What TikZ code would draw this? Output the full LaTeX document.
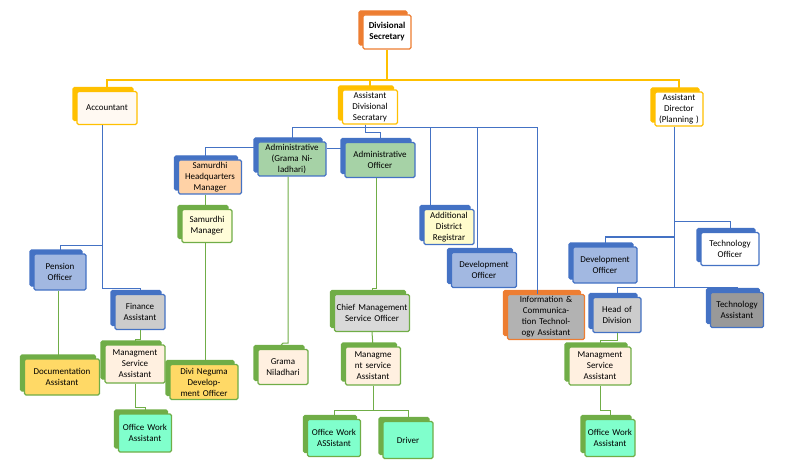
\documentclass[tikz,border=0pt]{standalone}
\usepackage{fontspec}
\setmainfont{Carlito}
\usetikzlibrary{shadows}
\definecolor{ofblue}{HTML}{4472C4}
\definecolor{ofgold}{HTML}{FFC000}
\definecolor{oforange}{HTML}{ED7D31}
\definecolor{ofgreen}{HTML}{70AD47}
\tikzset{
  card/.style={draw=#1, line width=1.3pt, rounded corners=1.5pt, align=center,
    font=\fontsize{9}{11}\selectfont, inner sep=1pt,
    copy shadow={shadow xshift=-4pt, shadow yshift=4pt, fill=#1, draw=#1}},
  box/.style 2 args={minimum width=#1, minimum height=#2, text width=#1-4pt},
  bl/.style={ofblue, line width=1pt},
  gl/.style={ofgreen, line width=1pt},
  yl/.style={ofgold, line width=1.3pt}
}
\begin{document}
\begin{tikzpicture}[x=1pt, y=-1pt]
\useasboundingbox (0,0) rectangle (795,473);
% top level
\node[card=oforange, fill=white, box={48pt}{34pt}, font=\fontsize{9}{11}\selectfont\bfseries] (ds) at (387,32) {Divisional Secretary};
\node[card=ofgold, fill=white!95!orange, box={60pt}{33pt}] (acc) at (107,108) {Accountant};
\node[card=ofgold, fill=white, box={55pt}{34pt}] (ads) at (370,107) {Assistant Divisional Secratary};
\node[card=ofgold, fill=white, box={48pt}{34pt}] (adp) at (679,109) {Assistant Director (Planning )};
% under assistant divisional secretary
\node[card=ofblue, fill=green!50!black!35, box={68pt}{34pt}] (agn) at (292,159) {Administrative (Grama Niladhari)};
\node[card=ofblue, fill=green!50!black!35, box={70pt}{35pt}] (ao) at (380,160) {Administrative Officer};
\node[card=ofblue, fill=orange!35, box={63pt}{34pt}] (shm) at (210,177) {Samurdhi Headquarters Manager};
\node[card=ofgreen, fill=yellow!15, box={50pt}{33pt}] (sm) at (207,226) {Samurdhi Manager};
\node[card=ofblue, fill=yellow!20, box={50pt}{35pt}] (adr) at (449,227) {Additional District Registrar};
\node[card=ofblue, fill=ofblue!50, box={65pt}{35pt}] (dev) at (484,270) {Development Officer};
\node[card=oforange, fill=black!30, box={77pt}{45pt}] (ict) at (546,317) {Information \& Communication Technology Assistant};
% under accountant
\node[card=ofblue, fill=ofblue!50, box={52pt}{36pt}] (po) at (60,272) {Pension Officer};
\node[card=ofblue, fill=black!20, box={50pt}{35pt}] (fa) at (140,312) {Finance Assistant};
\node[card=ofgreen, fill=ofgold!60, box={75pt}{36pt}] (doc) at (62,377) {Documentation Assistant};
\node[card=ofgreen, fill=orange!12, box={60pt}{38pt}] (msa) at (135,364) {Managment Service Assistant};
\node[card=ofgreen, fill=green!40!cyan!50, box={53pt}{38pt}] (owa) at (145,433) {Office Work Assistant};
\node[card=ofgreen, fill=ofgold!60, box={68pt}{35pt}] (dnd) at (204,382) {Divi Neguma Development Officer};
\node[card=ofgreen, fill=orange!12, box={50pt}{35pt}] (gn) at (283,367) {Grama Niladhari};
\node[card=ofgreen, fill=black!15, box={75pt}{37pt}] (cmso) at (372,313) {Chief Management Service Officer};
\node[card=ofgreen, fill=orange!12, box={55pt}{38pt}] (msb) at (373,366) {Managme nt service Assistant};
\node[card=ofgreen, fill=green!40!cyan!50, box={53pt}{37pt}] (owb) at (334,438) {Office Work ASSistant};
\node[card=ofgreen, fill=green!40!cyan!50, box={50pt}{37pt}] (drv) at (408,440) {Driver};
% under assistant director
\node[card=ofblue, fill=ofblue!50, box={64pt}{36pt}] (dvr) at (605,265) {Development Officer};
\node[card=ofblue, fill=white, box={58pt}{33pt}] (to) at (730,249) {Technology Officer};
\node[card=ofblue, fill=black!20, box={48pt}{35pt}] (hod) at (617,315) {Head of Division};
\node[card=ofblue, fill=black!40, box={53pt}{35pt}] (ta) at (737,310) {Technology Assistant};
\node[card=ofgreen, fill=orange!12, box={62pt}{38pt}] (msc) at (600,366) {Managment Service Assistant};
\node[card=ofgreen, fill=green!40!cyan!50, box={50pt}{37pt}] (owc) at (610,438) {Office Work Assistant};
% yellow bus
\coordinate (ybus) at (387,80);
\draw[yl] (ds.south) -- (ybus) -| (acc.north);
\draw[yl] (ybus) -| (adp.north);
\draw[yl] (ybus -| ads.north) -- (ads.north);
% blue lines
\coordinate (abus) at (365,128);
\draw[bl] (ads.south -| abus) -- (abus) -| (agn.north);
\draw[bl] (abus) -- ++(0,5) -| (ao.north);
\draw[bl] (abus) -| (ict.north -| 537,0);
\draw[bl] (abus -| 430,0) -- (adr.north -| 430,0);
\draw[bl] (abus -| 477,0) -- (dev.north -| 477,0);
\draw[bl] (agn.west |- 0,148) -| (shm.north -| 205,0);
\draw[bl] (agn.east |- 0,149) -- (ao.west |- 0,149);
\draw[bl] (acc.south -| 102,0) |- (po.north |- 0,245) -- (po.north);
\draw[bl] (acc.south -| 102,0) |- (fa.north |- 0,288) -- (fa.north);
\coordinate (pbus) at (674,222);
\draw[bl] (adp.south -| pbus) |- (to.north |- pbus) -- (to.north);
\draw[bl] (pbus) |- (dvr.north |- 0,237) -- (dvr.north);
\draw[bl] (pbus) |- (hod.north |- 0,287) -- (hod.north);
\draw[bl] (pbus) |- (ta.north |- 0,287) -- (ta.north);
% green lines
\draw[gl] (shm.south -| 205,0) -- (sm.north -| 205,0);
\draw[gl] (sm.south -| 205,0) -- (dnd.north -| 205,0);
\draw[gl] (agn.south -| 288,0) |- (gn.north |- 0,343) -- (gn.north -| 278,0);
\draw[gl] (ao.south -| 376,0) |- (cmso.north |- 0,288) -- (cmso.north);
\draw[gl] (cmso.south) -- (msb.north);
\draw[gl] (msb.south) |- (owb.north |- 0,410) -- (owb.north);
\draw[gl] (msb.south) |- (drv.north |- 0,410) -- (drv.north);
\draw[gl] (po.south -| 58,0) -- (doc.north -| 58,0);
\draw[gl] (fa.south) |- (msa.north |- 0,339) -- (msa.north);
\draw[gl] (msa.south) |- (owa.north |- 0,407) -- (owa.north);
\draw[gl] (hod.south) |- (msc.north |- 0,340) -- (msc.north);
\draw[gl] (msc.south) |- (owc.north |- 0,410) -- (owc.north);
\end{tikzpicture}
\end{document}
